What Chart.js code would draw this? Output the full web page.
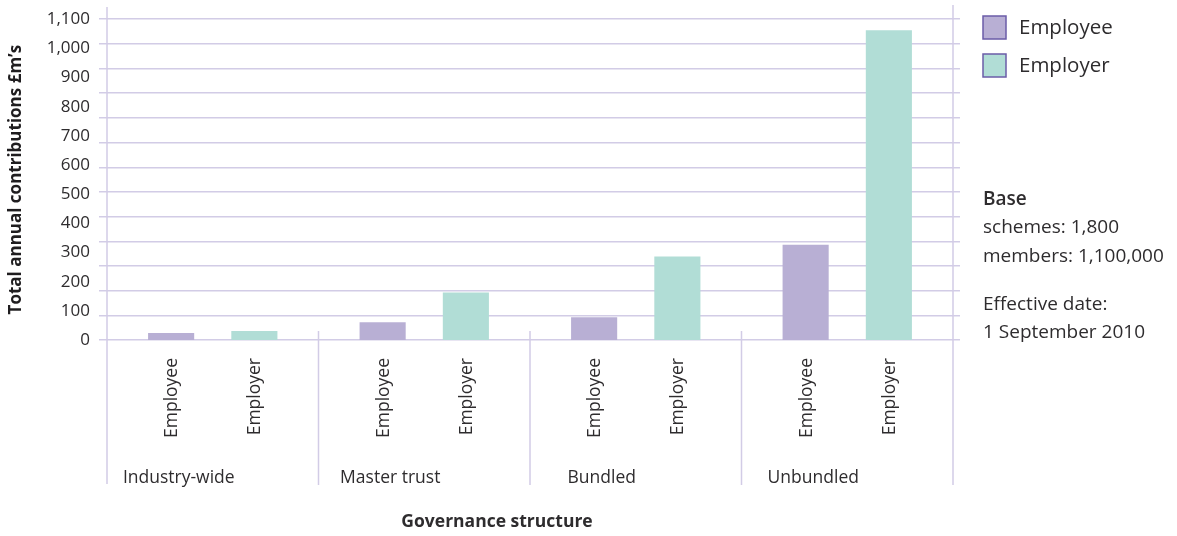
<!DOCTYPE html>
<html>
<head>
<meta charset="utf-8">
<script src="https://cdn.jsdelivr.net/npm/chart.js@4/dist/chart.umd.min.js"></script>
<style>
  html, body { margin: 0; padding: 0; background: #fff; }
  canvas { display: block; }
</style>
</head>
<body>
<canvas id="contrib" width="1177" height="536"></canvas>
<script>
// Annual contributions by governance structure (£m)
const groups = ['Industry-wide', 'Master trust', 'Bundled', 'Unbundled'];
const employee = [24, 61, 78, 327];
const employer = [31, 163, 286, 1062];
const yTickLabels = ['0', '100', '200', '300', '400', '500', '600', '700', '800', '900', '1,000', '1,100'];
const baseNotes = ['schemes: 1,800', 'members: 1,100,000'];
const dateNotes = ['Effective date:', '1 September 2010'];

const FONT = '"Open Sans", "Noto Sans", sans-serif';
const INK = '#2e2c2e';
const RULE = '#d2cce6';
const PURPLE = '#b8afd4';
const TEAL = '#b1ddd6';

// labels under the bars, group names, frame lines, legend and notes
const extras = {
	id: 'extras',
	afterDraw(chart) {
		const ctx = chart.ctx;
		const x = chart.scales.x;
		const area = chart.chartArea;
		ctx.save();

		// frame + group separators
		ctx.strokeStyle = RULE;
		ctx.lineWidth = 1.5;
		ctx.beginPath();
		ctx.moveTo(area.left, 7); ctx.lineTo(area.left, 484);
		ctx.moveTo(area.right, 5); ctx.lineTo(area.right, 485);
		for (let i = 0; i < groups.length - 1; i++) {
			const sx = (x.getPixelForValue(i) + x.getPixelForValue(i + 1)) / 2;
			ctx.moveTo(sx, area.bottom - 9); ctx.lineTo(sx, 485);
		}
		ctx.stroke();

		// rotated series name under each bar
		ctx.fillStyle = INK;
		ctx.font = '17.5px ' + FONT;
		ctx.textAlign = 'right';
		ctx.textBaseline = 'middle';
		chart.data.datasets.forEach((ds, di) => {
			chart.getDatasetMeta(di).data.forEach(bar => {
				ctx.save();
				ctx.translate(bar.x + 1, 358);
				ctx.rotate(-Math.PI / 2);
				ctx.fillText(ds.label, 0, 0);
				ctx.restore();
			});
		});

		// group names
		ctx.textAlign = 'center';
		groups.forEach((g, i) => ctx.fillText(g, x.getPixelForValue(i) - 34, 478));

		// axis title
		ctx.font = 'bold 17.5px ' + FONT;
		ctx.fillText('Governance structure', 497, 522);

		// legend
		ctx.textAlign = 'left';
		ctx.font = '20.5px ' + FONT;
		chart.data.datasets.forEach((ds, di) => {
			const top = 16 + di * 38;
			ctx.fillStyle = ds.backgroundColor;
			ctx.fillRect(983, top, 23, 23);
			ctx.strokeStyle = '#6b5ca8';
			ctx.lineWidth = 1.5;
			ctx.strokeRect(983, top, 23, 23);
			ctx.fillStyle = INK;
			ctx.fillText(ds.label, 1019, top + 12);
		});

		// base notes
		ctx.font = '600 19px ' + FONT;
		ctx.fillText('Base', 983, 200);
		ctx.font = '19px ' + FONT;
		baseNotes.forEach((t, i) => ctx.fillText(t, 983, 228 + i * 29));
		dateNotes.forEach((t, i) => ctx.fillText(t, 983, 305 + i * 28));

		ctx.restore();
	}
};

const chart = new Chart(document.getElementById('contrib'), {
	type: 'bar',
	data: {
		labels: groups,
		datasets: [
			{ label: 'Employee', data: employee, backgroundColor: PURPLE },
			{ label: 'Employer', data: employer, backgroundColor: TEAL }
		]
	},
	options: {
		responsive: false,
		animation: false,
		devicePixelRatio: 1,
		categoryPercentage: 0.787,
		barPercentage: 0.554,
		layout: { padding: { top: 16, bottom: 196, left: 0, right: 217 } },
		plugins: { legend: { display: false }, tooltip: { enabled: false } },
		scales: {
			x: { display: false },
			y: {
				position: 'left',
				weight: 1,
				min: 0,
				max: 1100,
				grid: { display: false, drawTicks: false },
				border: { display: false },
				ticks: {
					stepSize: 100,
					padding: 9,
					color: INK,
					font: { family: FONT, size: 17 },
					callback: (v, i) => yTickLabels[i]
				},
				title: {
					display: true,
					text: 'Total annual contributions £m’s',
					color: '#1f1d1f',
					font: { family: FONT, size: 17, weight: 'bold' },
					padding: { top: 6, bottom: 0 }
				},
				afterFit: s => { s.width = 99; }
			},
			yGrid: {
				position: 'left',
				weight: 0,
				min: 0,
				max: 1100,
				ticks: { display: false, stepSize: 1100 / 13 },
				grid: { color: RULE, lineWidth: 1.5, tickLength: 8 },
				border: { display: false },
				afterFit: s => { s.width = 8; }
			},
			yGridR: {
				position: 'right',
				min: 0,
				max: 1100,
				ticks: { display: false, stepSize: 1100 / 13 },
				grid: { color: RULE, lineWidth: 1.5, tickLength: 7, drawOnChartArea: false },
				border: { display: false },
				afterFit: s => { s.width = 7; }
			}
		}
	},
	plugins: [extras]
});
</script>
</body>
</html>
